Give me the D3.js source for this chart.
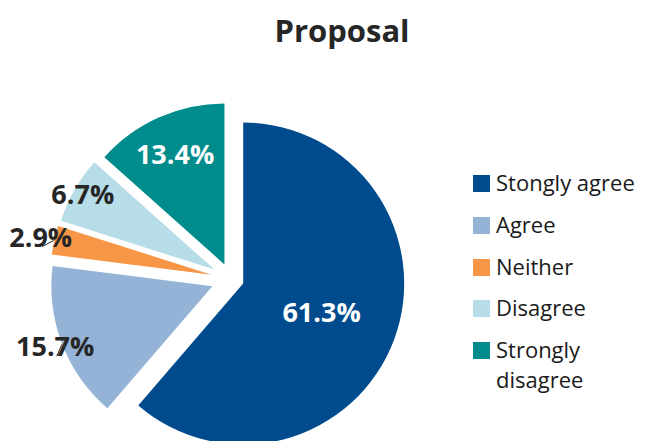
<!DOCTYPE html>
<html>
<head>
<meta charset="utf-8">
<script src="https://cdn.jsdelivr.net/npm/d3@7/dist/d3.min.js"></script>
<style>
  html, body { margin: 0; padding: 0; background: #fff; }
  svg { display: block; font-family: "Open Sans", Lato, sans-serif; }
</style>
</head>
<body>
<svg id="chart" width="647" height="441"></svg>
<script>
// chart data
var categories = [ 'Stongly agree', 'Agree', 'Neither', 'Disagree', 'Strongly disagree' ];
var legendLines = [ [ 'Stongly agree' ], [ 'Agree' ], [ 'Neither' ], [ 'Disagree' ], [ 'Strongly', 'disagree' ] ];
var values = [ 61.3, 15.7, 2.9, 6.7, 13.4 ];
var valueLabels = [ '61.3%', '15.7%', '2.9%', '6.7%', '13.4%' ];
var colours = [ '#004b8d', '#95b3d7', '#f79646', '#b7dde8', '#008c8c' ];

var svg = d3.select( '#chart' ),
    _center = { x: 231, y: 279 },
    _radius = 161,
    // how far each slice is pulled out of the pie
    _explode = [ 13, 20, 20, 19, 16 ],
    // label distance from the centre, as a fraction of the radius
    _labelRadius = [ 0.60, 1.17, 1.21, 1.06, 0.85 ],
    _labelInside = [ true, false, false, false, true ],
    _leader = [ false, true, true, false, false ];

svg.append( 'text' )
    .attr( 'x', 342 )
    .attr( 'y', 41.7 )
    .attr( 'text-anchor', 'middle' )
    .attr( 'font-size', 31 )
    .attr( 'font-weight', 'bold' )
    .attr( 'fill', '#262626' )
    .text( 'Proposal' );

var pie = d3.pie().sort( null ).value( function ( d ) { return d; } ),
    arcs = pie( values ),
    arc = d3.arc().innerRadius( 0 ).outerRadius( _radius );

var mid = function ( d ) { return ( d.startAngle + d.endAngle ) / 2; };

var pieGrp = svg.append( 'g' )
    .attr( 'transform', 'translate(' + _center.x + ',' + _center.y + ')' );

pieGrp.selectAll( 'path' )
    .data( arcs )
    .enter()
    .append( 'path' )
    .attr( 'd', arc )
    .attr( 'fill', function ( d, i ) { return colours[ i ]; } )
    .attr( 'transform', function ( d, i ) {
        var a = mid( d );
        return 'translate(' + ( _explode[ i ] * Math.sin( a ) ) + ',' + ( -_explode[ i ] * Math.cos( a ) ) + ')';
    } );

var labelPos = function ( d, i ) {
    var r = _labelRadius[ i ] * _radius, a = mid( d );
    return [ r * Math.sin( a ), -r * Math.cos( a ) ];
};

// leader lines for the small outside labels
arcs.forEach( function ( d, i ) {
    if ( !_leader[ i ] ) return;
    var a = mid( d ),
        p = labelPos( d, i ),
        x1 = p[ 0 ] + 1.5,
        y1 = p[ 1 ] + 9.5,
        ex = ( _radius + _explode[ i ] ) * Math.sin( a ),
        ey = -( _radius + _explode[ i ] ) * Math.cos( a ),
        len = Math.sqrt( ( ex - x1 ) * ( ex - x1 ) + ( ey - y1 ) * ( ey - y1 ) ),
        k = Math.min( 1, 13 / len );
    pieGrp.append( 'line' )
        .attr( 'x1', x1 )
        .attr( 'y1', y1 )
        .attr( 'x2', x1 + ( ex - x1 ) * k )
        .attr( 'y2', y1 + ( ey - y1 ) * k )
        .attr( 'stroke', '#262626' )
        .attr( 'stroke-width', 1 );
} );

pieGrp.selectAll( 'text.val' )
    .data( arcs )
    .enter()
    .append( 'text' )
    .attr( 'class', 'val' )
    .attr( 'x', function ( d, i ) { return labelPos( d, i )[ 0 ]; } )
    .attr( 'y', function ( d, i ) { return labelPos( d, i )[ 1 ]; } )
    .attr( 'dy', '0.36em' )
    .attr( 'text-anchor', 'middle' )
    .attr( 'font-size', 27 )
    .attr( 'font-weight', 'bold' )
    .attr( 'fill', function ( d, i ) { return _labelInside[ i ] ? '#ffffff' : '#262626'; } )
    .text( function ( d, i ) { return valueLabels[ i ]; } );

// legend
var legend = svg.append( 'g' ).attr( 'transform', 'translate(473,0)' ),
    rowY = [ 183, 225, 267, 308, 350 ];

categories.forEach( function ( c, i ) {
    legend.append( 'rect' )
        .attr( 'x', 0 )
        .attr( 'y', rowY[ i ] - 8 )
        .attr( 'width', 17 )
        .attr( 'height', 17 )
        .attr( 'fill', colours[ i ] );
    legend.append( 'text' )
        .attr( 'x', 23 )
        .attr( 'y', rowY[ i ] + 8 )
        .attr( 'font-size', 22 )
        .attr( 'fill', '#1a1a1a' )
        .selectAll( 'tspan' )
        .data( legendLines[ i ] )
        .enter()
        .append( 'tspan' )
        .attr( 'x', 23 )
        .attr( 'dy', function ( t, j ) { return j === 0 ? 0 : 30; } )
        .text( function ( t ) { return t; } );
} );
</script>
</body>
</html>
